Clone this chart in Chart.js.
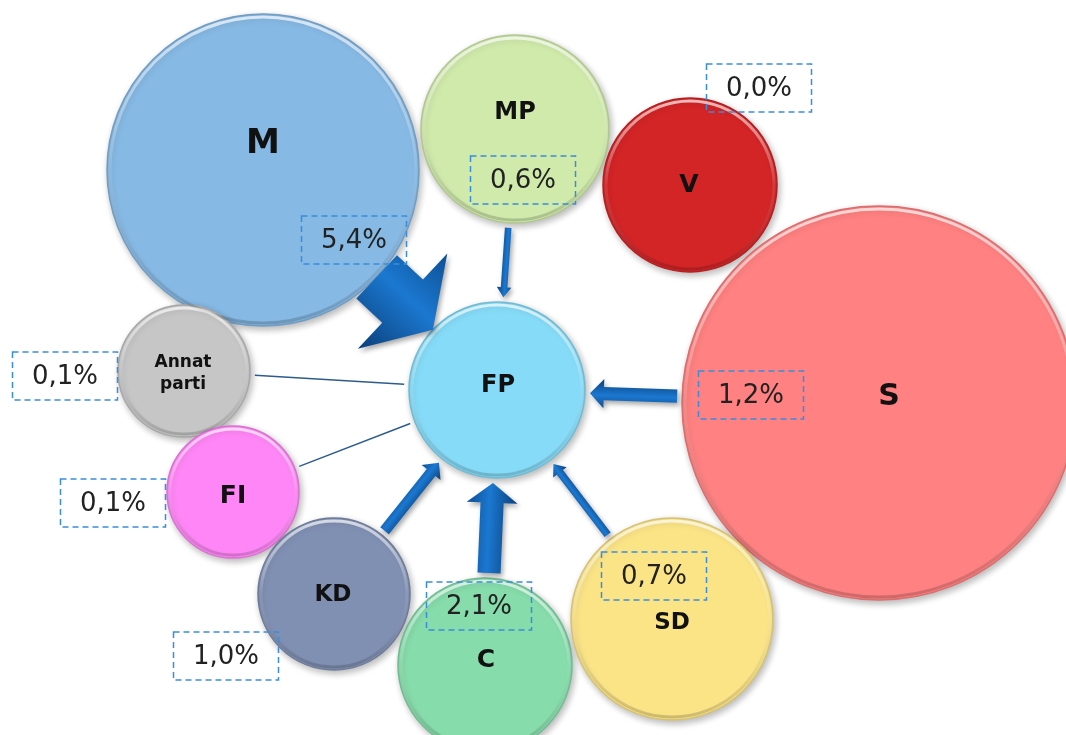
<!DOCTYPE html>
<html>
<head>
<meta charset="utf-8">
<script src="https://cdn.jsdelivr.net/npm/chart.js@4/dist/chart.umd.min.js"></script>
<style>
    html, body { margin: 0; padding: 0; background: #ffffff; }
    #wrap { width: 1066px; height: 735px; position: relative; }
</style>
</head>
<body>
<div id="wrap"><canvas id="flowChart"></canvas></div>
<script>
// ===========================
// Data
// ===========================

const parties = ['M', 'MP', 'V', 'S', 'FP', 'Annat parti', 'FI', 'KD', 'C', 'SD'];
const bubbleX = [263, 515, 690, 879, 497, 184, 233, 334, 485, 672];
const bubbleY = [170, 129, 185, 403, 390, 371, 492, 594, 665, 619];
const bubbleR = [156, 94, 87, 197, 88, 66, 66, 76, 87, 101];
// share of each party's voters moving to FP (null = FP itself)
const flowToFP = [5.4, 0.6, 0.0, 1.2, null, 0.1, 0.1, 1.0, 2.1, 0.7];
const target = 'FP';

// ===========================
// Layout / styles
// ===========================

const partyColors = {
    'M': '#86b9e4', 'MP': '#d0eaab', 'V': '#d32426', 'S': '#ff8181', 'FP': '#86dcf8',
    'Annat parti': '#c6c6c6', 'FI': '#ff86f6', 'KD': '#8090b3', 'C': '#86dcab', 'SD': '#fbe486'
};
const nameAt = {
    'M': [263, 144], 'MP': [515, 113], 'V': [689, 185], 'S': [889, 397], 'FP': [498, 386],
    'Annat parti': [183, 374], 'FI': [233, 496], 'KD': [333, 595], 'C': [486, 660], 'SD': [672, 623]
};
const nameSize = {
    'M': 34, 'MP': 24, 'V': 25, 'S': 30, 'FP': 24, 'Annat parti': 17, 'FI': 25, 'KD': 23, 'C': 25, 'SD': 23
};
const boxAt = {
    'M': [354, 240], 'MP': [523, 180], 'V': [759, 88], 'S': [751, 395], 'Annat parti': [65, 376],
    'FI': [113, 503], 'KD': [226, 656], 'C': [479, 606], 'SD': [654, 576]
};

function shade(hex, f) {
    const n = parseInt(hex.slice(1), 16);
    let r = (n >> 16) & 255, g = (n >> 8) & 255, b = n & 255;
    r = Math.round(r * f); g = Math.round(g * f); b = Math.round(b * f);
    return `rgb(${Math.min(r, 255)}, ${Math.min(g, 255)}, ${Math.min(b, 255)})`;
}

function drawArrow(ctx, x1, y1, x2, y2, shaft, headW, headL) {
    const dx = x2 - x1, dy = y2 - y1;
    const len = Math.sqrt(dx * dx + dy * dy);
    ctx.save();
    ctx.translate(x1, y1);
    ctx.rotate(Math.atan2(dy, dx));
    const grad = ctx.createLinearGradient(0, -headW / 2, 0, headW / 2);
    grad.addColorStop(0, '#0d4f94');
    grad.addColorStop(0.45, '#1b78d0');
    grad.addColorStop(1, '#0a3f7a');
    ctx.shadowColor = 'rgba(0, 0, 0, 0.35)';
    ctx.shadowBlur = 5;
    ctx.shadowOffsetX = 2;
    ctx.shadowOffsetY = 3;
    ctx.beginPath();
    ctx.moveTo(0, -shaft / 2);
    ctx.lineTo(len - headL, -shaft / 2);
    ctx.lineTo(len - headL, -headW / 2);
    ctx.lineTo(len, 0);
    ctx.lineTo(len - headL, headW / 2);
    ctx.lineTo(len - headL, shaft / 2);
    ctx.lineTo(0, shaft / 2);
    ctx.closePath();
    ctx.fillStyle = grad;
    ctx.fill();
    ctx.restore();
}

// shadow under the bubbles
const bubbleShadow = {
    id: 'bubbleShadow',
    beforeDatasetsDraw(chart) {
        const ctx = chart.ctx;
        ctx.save();
        ctx.shadowColor = 'rgba(0, 0, 0, 0.28)';
        ctx.shadowBlur = 7;
        ctx.shadowOffsetX = 2;
        ctx.shadowOffsetY = 3;
    },
    afterDatasetsDraw(chart) {
        chart.ctx.restore();
    }
};

// bevel rims, flow arrows, and labels
const flowDecor = {
    id: 'flowDecor',
    afterDatasetsDraw(chart) {
        const ctx = chart.ctx;
        const xs = chart.scales.x, ys = chart.scales.y;
        const px = (v) => xs.getPixelForValue(v);
        const py = (v) => ys.getPixelForValue(v);
        const meta = chart.getDatasetMeta(0);

        // bevel rim
        meta.data.forEach((el) => {
            const r = el.options.radius;
            ctx.save();
            const g = ctx.createLinearGradient(0, el.y - r, 0, el.y + r);
            g.addColorStop(0, 'rgba(255, 255, 255, 0.7)');
            g.addColorStop(0.5, 'rgba(255, 255, 255, 0.1)');
            g.addColorStop(1, 'rgba(0, 0, 0, 0.18)');
            ctx.strokeStyle = g;
            ctx.lineWidth = 3;
            ctx.beginPath();
            ctx.arc(el.x, el.y, r - 3, 0, Math.PI * 2);
            ctx.stroke();
            ctx.restore();
        });

        // flows into the target bubble
        const ti = parties.indexOf(target);
        const tx = px(bubbleX[ti]);
        const ty = py(bubbleY[ti]);
        const tr = bubbleR[ti];
        parties.forEach((p, i) => {
            const v = flowToFP[i];
            if (v === null || v <= 0) return;
            const sx = px(bubbleX[i]);
            const sy = py(bubbleY[i]);
            const dx = tx - sx, dy = ty - sy;
            const d = Math.sqrt(dx * dx + dy * dy);
            const ux = dx / d, uy = dy / d;
            const gap = v > 3 ? 0 : 5;
            const ax = sx + ux * (bubbleR[i] + gap), ay = sy + uy * (bubbleR[i] + gap);
            const bx = tx - ux * (tr + gap), by = ty - uy * (tr + gap);
            if (v < 0.3) {
                ctx.save();
                ctx.strokeStyle = '#2d5c8c';
                ctx.lineWidth = 1.5;
                ctx.beginPath();
                ctx.moveTo(ax, ay);
                ctx.lineTo(bx, by);
                ctx.stroke();
                ctx.restore();
            } else {
                const shaft = 11 * v;
                drawArrow(ctx, ax, ay, bx, by, shaft, shaft * 2.2, shaft * 0.6 + 6);
            }
        });

        // party names
        ctx.save();
        ctx.fillStyle = '#111111';
        ctx.textAlign = 'center';
        ctx.textBaseline = 'middle';
        parties.forEach((p) => {
            const pos = nameAt[p];
            ctx.font = `bold ${nameSize[p]}px "DejaVu Sans", Verdana, sans-serif`;
            const lines = p === 'Annat parti' ? p.split(' ') : [p];
            const lh = nameSize[p] * 1.3;
            lines.forEach((line, k) => {
                ctx.fillText(line, px(pos[0]), py(pos[1]) + (k - (lines.length - 1) / 2) * lh);
            });
        });
        ctx.restore();

        // percentage boxes
        ctx.save();
        ctx.textAlign = 'center';
        ctx.textBaseline = 'middle';
        ctx.font = '26px "DejaVu Sans", Verdana, sans-serif';
        parties.forEach((p, i) => {
            const v = flowToFP[i];
            if (v === null) return;
            const cx = px(boxAt[p][0]), cy = py(boxAt[p][1]);
            const w = 105, h = 48;
            ctx.strokeStyle = '#3a8ddb';
            ctx.lineWidth = 1.5;
            ctx.setLineDash([6, 4]);
            ctx.strokeRect(cx - w / 2, cy - h / 2, w, h);
            ctx.setLineDash([]);
            ctx.fillStyle = '#222222';
            ctx.fillText(v.toFixed(1).replace('.', ',') + '%', cx, cy + 1);
        });
        ctx.restore();
    }
};

let flowChart = null;

function initChart() {
    const ctx = document.getElementById('flowChart');
    if (!ctx) return;

    flowChart = new Chart(ctx, {
        type: 'bubble',
        data: {
            labels: parties,
            datasets: [{
                data: parties.map((p, i) => ({ x: bubbleX[i], y: bubbleY[i], r: bubbleR[i] })),
                backgroundColor: parties.map(p => partyColors[p]),
                borderColor: parties.map(p => shade(partyColors[p], 0.85)),
                borderWidth: 1.5,
                clip: false
            }]
        },
        options: {
            responsive: true,
            maintainAspectRatio: false,
            animation: false,
            events: [],
            layout: { padding: 0, autoPadding: false },
            plugins: {
                legend: { display: false },
                tooltip: { enabled: false }
            },
            scales: {
                x: { type: 'linear', min: 0, max: 1066, display: false },
                y: { type: 'linear', min: 0, max: 735, reverse: true, display: false }
            }
        },
        plugins: [bubbleShadow, flowDecor]
    });
}

initChart();
</script>
</body>
</html>
